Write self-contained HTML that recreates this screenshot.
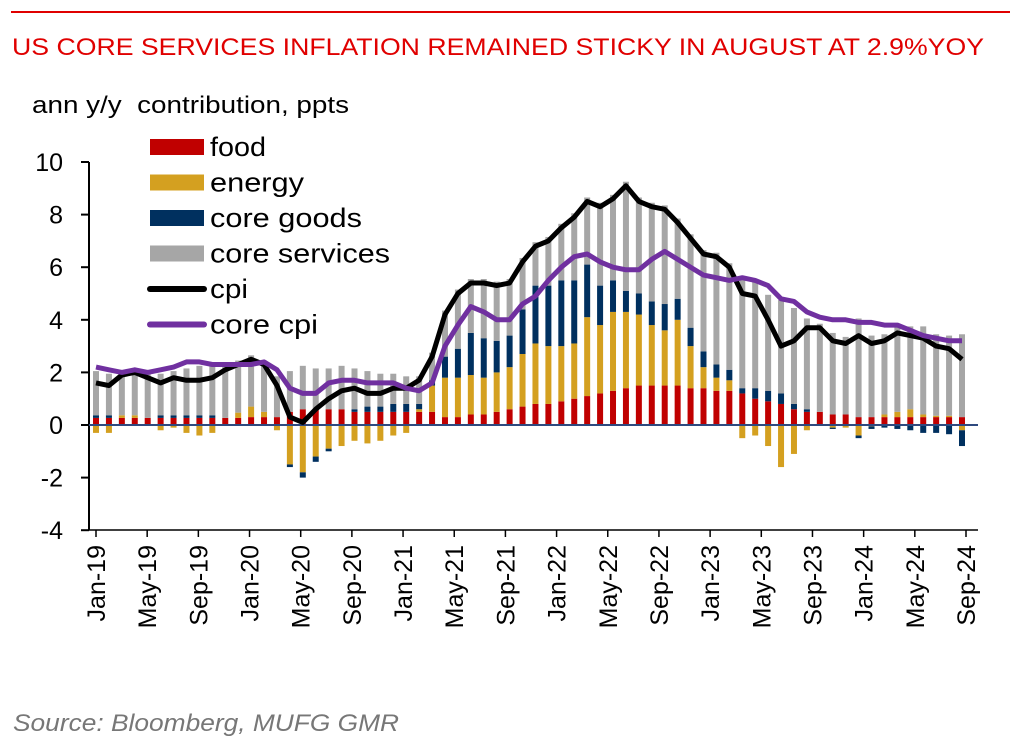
<!DOCTYPE html><html><head><meta charset="utf-8"><style>body{margin:0;background:#fff;width:1022px;height:751px;overflow:hidden}svg{display:block;font-family:"Liberation Sans",Arial,sans-serif}</style></head><body>
<svg id="s" width="1022" height="751" xmlns="http://www.w3.org/2000/svg">
<line x1="11" y1="12" x2="1010" y2="12" stroke="#e00000" stroke-width="2"/>
<text x="12" y="55" font-size="24" fill="#e00000" textLength="972" lengthAdjust="spacingAndGlyphs">US CORE SERVICES INFLATION REMAINED STICKY IN AUGUST AT 2.9%YOY</text>
<text x="32" y="113" font-size="24" fill="#000" textLength="317" lengthAdjust="spacingAndGlyphs" xml:space="preserve">ann y/y  contribution, ppts</text>
<text x="13" y="731" font-size="24" fill="#777" font-style="italic" textLength="386" lengthAdjust="spacingAndGlyphs">Source: Bloomberg, MUFG GMR</text>
<g id="g"></g>
</svg>
<script>
const cpi=[1.6,1.5,1.9,2.0,1.8,1.6,1.8,1.7,1.7,1.8,2.1,2.3,2.5,2.3,1.5,0.3,0.1,0.6,1.0,1.3,1.4,1.2,1.2,1.4,1.4,1.7,2.6,4.2,5.0,5.4,5.4,5.3,5.4,6.2,6.8,7.0,7.5,7.9,8.5,8.3,8.6,9.1,8.5,8.3,8.2,7.7,7.1,6.5,6.4,6.0,5.0,4.9,4.0,3.0,3.2,3.7,3.7,3.2,3.1,3.4,3.1,3.2,3.5,3.4,3.3,3.0,2.9,2.5];
const core=[2.2,2.1,2.0,2.1,2.0,2.1,2.2,2.4,2.4,2.3,2.3,2.3,2.3,2.4,2.1,1.4,1.2,1.2,1.6,1.7,1.7,1.6,1.6,1.6,1.4,1.3,1.6,3.0,3.8,4.5,4.3,4.0,4.0,4.6,4.9,5.5,6.0,6.4,6.5,6.2,6.0,5.9,5.9,6.3,6.6,6.3,6.0,5.7,5.6,5.5,5.6,5.5,5.3,4.8,4.7,4.3,4.1,4.0,4.0,3.9,3.9,3.8,3.8,3.6,3.4,3.3,3.2,3.2];
const food=[.27,.27,.27,.27,.27,.27,.27,.27,.27,.27,.27,.27,.3,.3,.3,.5,.6,.6,.6,.6,.5,.5,.5,.5,.5,.5,.5,.3,.3,.4,.4,.5,.6,.7,.8,.8,.9,1.0,1.1,1.2,1.3,1.4,1.5,1.5,1.5,1.5,1.4,1.4,1.3,1.3,1.2,1.0,.9,.8,.6,.5,.5,.4,.4,.3,.3,.3,.3,.3,.3,.3,.3,.3];
const en=[-.3,-.3,.1,.1,0,-.2,-.1,-.3,-.4,-.3,0,.2,.4,.2,-.2,-1.5,-1.8,-1.2,-.9,-.8,-.6,-.7,-.6,-.4,-.3,.1,1.0,1.5,1.5,1.5,1.4,1.5,1.6,2.0,2.3,2.2,2.1,2.1,3.0,2.6,3.0,2.9,2.7,2.3,2.1,2.5,1.6,.8,.5,.4,-.5,-.4,-.8,-1.6,-1.1,-.2,0,-.1,-.1,-.4,-.05,.1,.2,.3,.1,.05,.05,-.2];
const gd=[.1,.1,0,0,0,.1,.1,.1,.1,.1,0,0,0,0,0,-.1,-.2,-.2,-.1,0,.1,.2,.2,.3,.3,.2,.2,.8,1.1,1.6,1.5,1.2,1.2,1.7,2.2,2.3,2.5,2.4,2.0,1.5,1.2,.8,.8,.9,1.0,.8,.7,.6,.5,.4,.2,.4,.4,.4,.2,.1,0,-.05,0,-.1,-.1,-.1,-.15,-.2,-.3,-.3,-.35,-.6];
const Z=425,U=26.3,N=68,x0=96,dx=(962-96)/67;
const Y=v=>Z-v*U,X=i=>x0+i*dx;
let h='';
h+='<line x1="89" y1="162" x2="89" y2="530" stroke="#000" stroke-width="2"/>';
for(let v=-4;v<=10;v+=2){const y=Y(v);h+=`<line x1="81" y1="${y}" x2="89" y2="${y}" stroke="#000" stroke-width="2"/><text x="${v==10?63:63}" y="${y+9}" font-size="25" text-anchor="end">${v}</text>`;}
for(let i=0;i<N;i++){const x=X(i)-3;let p=0,n=0;
 const seg=(v,c)=>{if(v>0){h+=`<rect x="${x}" y="${Y(p+v)}" width="6" height="${v*U}" fill="${c}"/>`;p+=v;}else if(v<0){h+=`<rect x="${x}" y="${Y(n)}" width="6" height="${-v*U}" fill="${c}"/>`;n+=v;}};
 seg(food[i],'#c00000');seg(en[i],'#d4a020');seg(gd[i],'#00305f');
 const sv=Math.max(0.9,cpi[i]-food[i]-en[i]-gd[i]+0.15);seg(sv,'#a6a6a6');}
h+=`<line x1="89" y1="${Z}" x2="978" y2="${Z}" stroke="#2f4a7f" stroke-width="2"/>`;
h+=`<line x1="89" y1="530" x2="978" y2="530" stroke="#000" stroke-width="1.5"/>`;
const pl=(a,c)=>'<polyline fill="none" stroke="'+c+'" stroke-width="5" stroke-linejoin="round" points="'+a.map((v,i)=>X(i).toFixed(1)+','+Y(v).toFixed(1)).join(' ')+'"/>';
h+=pl(cpi,'#000')+pl(core,'#7030a0');
const ms=['Jan','May','Sep'];
for(let k=0;k<=17;k++){const lab=ms[k%3]+'-'+(19+Math.floor(k/3));const x=96+k*(966-96)/17;
 h+=`<line x1="${x}" y1="530" x2="${x}" y2="537" stroke="#000" stroke-width="1.5"/><text transform="translate(${x+9},545) rotate(-90)" font-size="25" text-anchor="end">${lab}</text>`;}
const L=[['food','#c00000','r',56],['energy','#d4a020','r',94],['core goods','#00305f','r',152],['core services','#a6a6a6','r',180],['cpi','#000','l',38],['core cpi','#7030a0','l',108]];
L.forEach((l,j)=>{const y=147+j*35.5;if(l[2]=='r')h+=`<rect x="150" y="${y-8}" width="54" height="16" fill="${l[1]}"/>`;else h+=`<line x1="150" y1="${y}" x2="204" y2="${y}" stroke="${l[1]}" stroke-width="6" stroke-linecap="round"/>`;h+=`<text x="210" y="${y+9}" font-size="27" textLength="${l[3]}" lengthAdjust="spacingAndGlyphs">${l[0]}</text>`;});
document.getElementById('g').innerHTML=h;
</script></body></html>
